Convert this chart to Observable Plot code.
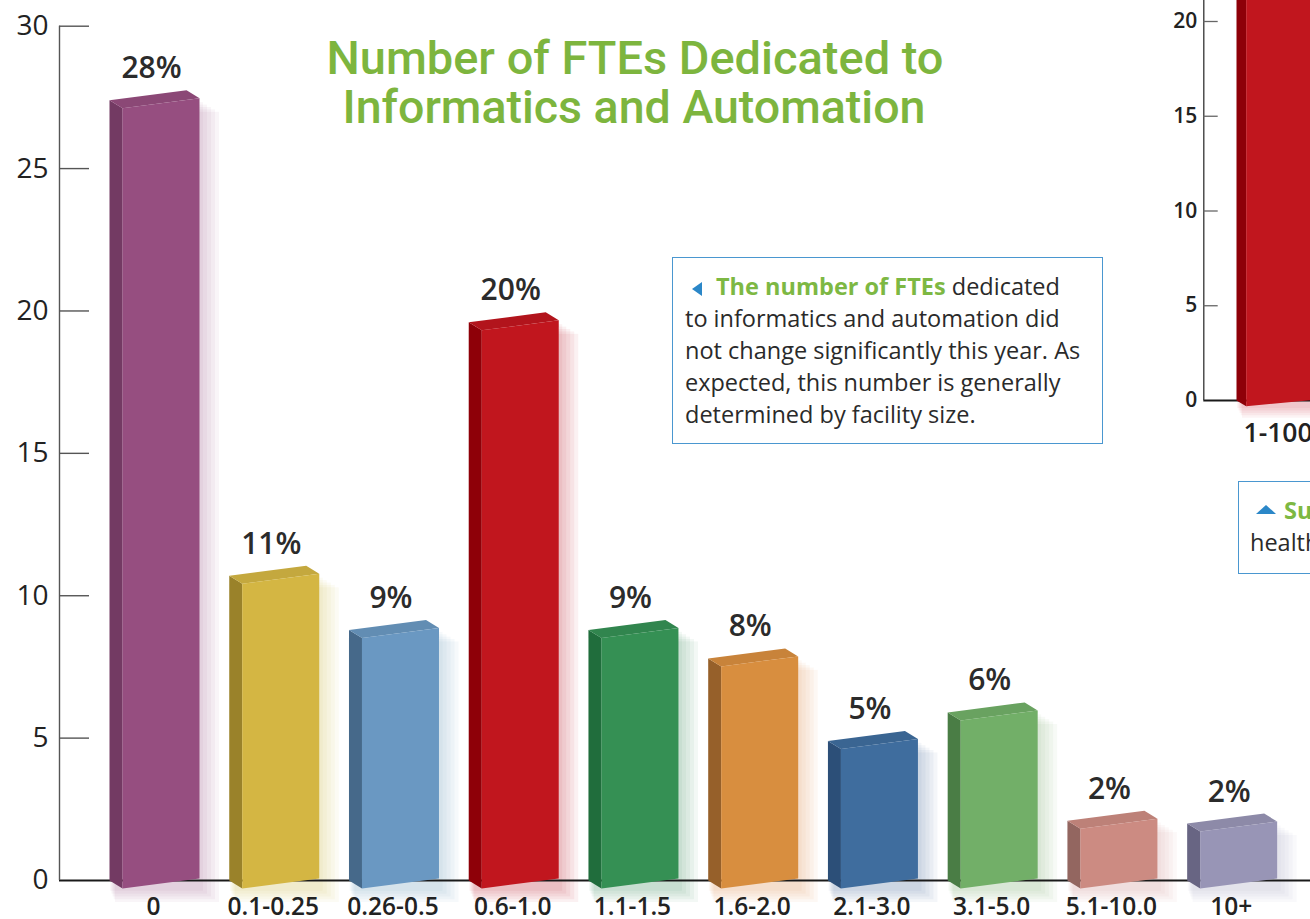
<!DOCTYPE html>
<html>
<head>
<meta charset="utf-8">
<script src="https://cdn.jsdelivr.net/npm/d3@7"></script>
<script src="https://cdn.jsdelivr.net/npm/@observablehq/plot@0.6"></script>
<style>
  html, body { margin: 0; padding: 0; background: #fff; overflow: hidden; }
  #wrap { position: relative; width: 1310px; height: 919px; overflow: hidden; background: #fff; }
  #wrap svg { position: absolute; left: 0; top: 0; }
  .note { position: absolute; box-sizing: border-box; border: 1.3px solid #4a97d0; background: #fff;
          font-family: "Open Sans", sans-serif; font-size: 23.5px; line-height: 32px; color: #2a2a2a; white-space: nowrap; }
  .note b { color: #7db843; font-weight: 700; }
  .tri-left { display: inline-block; width: 0; height: 0; border-top: 7.5px solid transparent; border-bottom: 7.5px solid transparent;
              border-right: 10px solid #2b87c8; vertical-align: -1px; }
  .tri-up { display: inline-block; width: 0; height: 0; border-left: 10px solid transparent; border-right: 10px solid transparent;
            border-bottom: 9px solid #2b87c8; vertical-align: 5px; }
</style>
</head>
<body>
<div id="wrap">
  <div class="note" id="note1" style="left:672px; top:257px; width:431px; height:187px; padding:12px 0 0 12px;">
    <span class="tri-left" style="margin-left:7px; margin-right:14px;"></span><b>The number of FTEs</b> dedicated<br>
    to informatics and automation did<br>
    not change significantly this year. As<br>
    expected, this number is generally<br>
    determined by facility size.
  </div>
  <div class="note" id="note2" style="left:1238px; top:481px; width:300px; height:93px; padding:12px 0 0 11px;">
    <span class="tri-up" style="margin-left:6px; margin-right:8px;"></span><b>Su</b><br>
    health
  </div>
</div>
<script>
// ---------------- data ----------------
const categories = ["0", "0.1-0.25", "0.26-0.5", "0.6-1.0", "1.1-1.5", "1.6-2.0", "2.1-3.0", "3.1-5.0", "5.1-10.0", "10+"];
const values = [27.4, 10.7, 8.8, 19.6, 8.8, 7.8, 4.9, 5.9, 2.1, 2.0];
const pctLabels = ["28%", "11%", "9%", "20%", "9%", "8%", "5%", "6%", "2%", "2%"];
const frontColors = ["#964e80", "#d4b643", "#6a98c2", "#c1161e", "#359054", "#d88e3f", "#3f6d9e", "#72af68", "#cc8b82", "#9895b6"];
const sideColors  = ["#733a63", "#9a822a", "#46698a", "#8e0008", "#206d3c", "#96602a", "#2c4f78", "#4a7d45", "#936660", "#686583"];
const yTicks = [0, 5, 10, 15, 20, 25, 30];

const insetCategories = ["1-100"];
const insetValues = [24];
const insetFront = ["#c1161e"];
const insetSide = ["#8e0008"];
const insetTicks = [0, 5, 10, 15, 20, 25];

// ---------------- layout (pixels) ----------------
const W = 1310, H = 919;
const axisLeft = 59, baseY = 880, topY = 25.7;
const step = 119.74, firstFront = 122;
const frontW = 77, sideW = 13, drop = 8, rise = 2, backRise = 10;
const kY = (baseY - topY) / 30;
const ux = p => p / step, uy = p => p / kY;
const xDomain = [(axisLeft - firstFront) / step, (W - firstFront) / step];
const glowLayers = [4, 8, 12, 16, 20];

function topColor(c) { return d3.color(c).darker(0.22).formatHex(); }

const polys = [], glow = [];
values.forEach((v, i) => {
  const add = (face, pts, fill) => pts.forEach(([x, y]) => polys.push({key: i + face, x, y, fill}));
  add("side", [[i - ux(sideW), 0], [i, -uy(drop)], [i, v - uy(drop)], [i - ux(sideW), v]], sideColors[i]);
  add("top", [[i - ux(sideW), v], [i, v - uy(drop)], [i + ux(frontW), v + uy(rise)], [i + ux(frontW - sideW), v + uy(backRise)]], topColor(frontColors[i]));
  add("front", [[i, -uy(drop)], [i + ux(frontW), uy(rise)], [i + ux(frontW), v + uy(rise)], [i, v - uy(drop)]], frontColors[i]);
  glowLayers.forEach(g => glow.push({
    x1: i - ux(sideW) + ux(g * 0.3), x2: i + ux(frontW + g),
    y1: -uy(drop + g * 0.7), y2: v - uy(g * 0.6), fill: frontColors[i]
  }));
});

const main = Plot.plot({
  width: W, height: H,
  marginLeft: axisLeft, marginRight: 0, marginTop: topY, marginBottom: H - baseY,
  x: {domain: xDomain, axis: null},
  y: {domain: [0, 30], axis: null},
  color: {type: "identity"},
  style: {fontFamily: "'Open Sans', sans-serif", background: "#fff"},
  marks: [
    Plot.rect(glow, {x1: "x1", x2: "x2", y1: "y1", y2: "y2", fill: "fill", fillOpacity: 0.06}),
    Plot.ruleY([0], {stroke: "#1a1a1a", strokeWidth: 2}),
    Plot.ruleX([xDomain[0]], {y1: 0, y2: 30, stroke: "#555", strokeWidth: 1.4}),
    Plot.ruleY(yTicks.filter(t => t > 0), {y: d => d, x1: xDomain[0], x2: xDomain[0] + ux(30), stroke: "#555", strokeWidth: 1.4}),
    Plot.text(yTicks, {x: xDomain[0], y: d => d, text: d => String(d), textAnchor: "end", dx: -11,
      fontSize: 28, fontWeight: 500, fill: "#222"}),
    Plot.line(polys, {x: "x", y: "y", z: "key", fill: "fill", stroke: "none"}),
    Plot.text(values, {x: (d, i) => i + ux(29), y: d => d, text: (d, i) => pctLabels[i], lineAnchor: "bottom", dy: -22,
      fontSize: 30, fontWeight: 600, fill: "#2b2b2b"}),
    Plot.text(categories, {x: (d, i) => i + ux(31), y: 0, text: d => d, lineAnchor: "bottom", dy: 34,
      fontSize: 24.5, fontWeight: 600, fill: "#222"})
  ]
});

// ---------------- inset (cropped second chart) ----------------
const iAxis = 1203.3, iBase = 400, iTop = 21, iFront = 1245.7, iStep = 80;
const iK = (iBase - iTop) / 20;
const ux2 = p => p / iStep, uy2 = p => p / iK;
const ixDomain = [(iAxis - iFront) / iStep, (W - iFront) / iStep];
const ipolys = [], iglow = [];
insetValues.forEach((v, i) => {
  const add = (face, pts, fill) => pts.forEach(([x, y]) => ipolys.push({key: i + face, x, y, fill}));
  add("side", [[i - ux2(9.7), 0], [i, -uy2(5.7)], [i, v - uy2(5.7)], [i - ux2(9.7), v]], insetSide[i]);
  add("front", [[i, -uy2(5.7)], [i + ux2(77), uy2(1.5)], [i + ux2(77), v + uy2(1.5)], [i, v - uy2(5.7)]], insetFront[i]);
  glowLayers.forEach(g => iglow.push({
    x1: i - ux2(9.7) + ux2(g * 0.3), x2: i + ux2(77 + g),
    y1: -uy2(5.7 + g * 0.6), y2: v, fill: insetFront[i]
  }));
});

const inset = Plot.plot({
  width: W, height: H,
  marginLeft: iAxis, marginRight: 0, marginTop: iTop, marginBottom: H - iBase,
  x: {domain: ixDomain, axis: null},
  y: {domain: [0, 20], axis: null},
  color: {type: "identity"},
  style: {fontFamily: "'Open Sans', sans-serif", background: "transparent"},
  marks: [
    Plot.rect(iglow, {x1: "x1", x2: "x2", y1: "y1", y2: "y2", fill: "fill", fillOpacity: 0.05}),
    Plot.ruleY([0], {stroke: "#1a1a1a", strokeWidth: 1.8}),
    Plot.ruleX([ixDomain[0]], {y1: 0, y2: insetTicks[insetTicks.length - 1], stroke: "#333", strokeWidth: 1.3}),
    Plot.ruleY(insetTicks.filter(t => t > 0), {y: d => d, x1: ixDomain[0], x2: ixDomain[0] + ux2(14.4), stroke: "#666", strokeWidth: 1.3}),
    Plot.text(insetTicks, {x: ixDomain[0], y: d => d, text: d => String(d), textAnchor: "end", dx: -6.6,
      fontSize: 21, fontWeight: 600, fill: "#222"}),
    Plot.line(ipolys, {x: "x", y: "y", z: "key", fill: "fill", stroke: "none"}),
    Plot.text(insetCategories, {x: (d, i) => i + ux2(-2.7), y: 0, text: d => d, textAnchor: "start", lineAnchor: "bottom", dy: 41.7,
      fontSize: 26.5, fontWeight: 600, fill: "#222"})
  ]
});

const wrap = document.getElementById("wrap");
wrap.insertBefore(inset, wrap.firstChild);
wrap.insertBefore(main, wrap.firstChild);

// title
const svg = d3.select(main);
const titleLines = [
  {text: "Number of FTEs Dedicated to", x: 635, y: 74, len: 617},
  {text: "Informatics and Automation", x: 634, y: 123, len: 583}
];
titleLines.forEach(t => {
  svg.append("text").attr("x", t.x).attr("y", t.y).attr("text-anchor", "middle")
    .attr("font-family", "Roboto, 'Open Sans', sans-serif").attr("font-size", 47).attr("font-weight", 500)
    .attr("fill", "#7db53e").attr("textLength", t.len).attr("lengthAdjust", "spacingAndGlyphs").text(t.text);
});
</script>
</body>
</html>
